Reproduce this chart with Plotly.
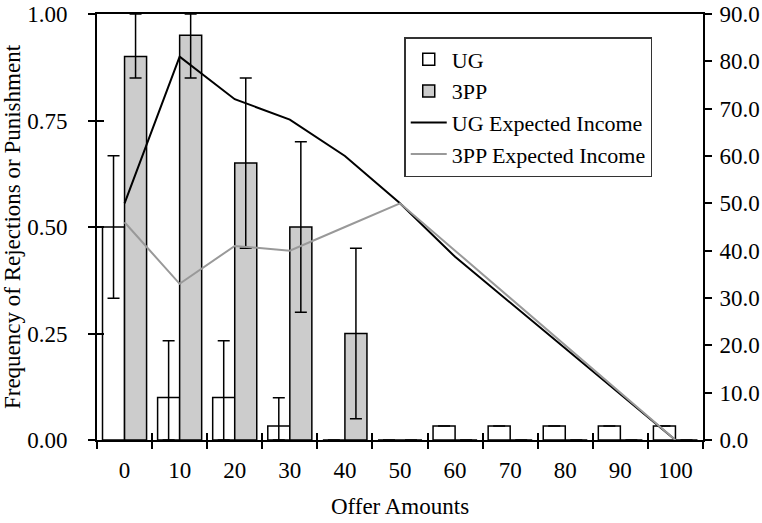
import plotly.graph_objects as go

# Offer amounts (categories)
offers = ["0", "10", "20", "30", "40", "50", "60", "70", "80", "90", "100"]

# Frequency of rejections (UG) and punishment (3PP)
ug_freq = [0.50, 0.10, 0.10, 0.033, 0.0, 0.0, 0.033, 0.033, 0.033, 0.033, 0.033]
ug_err_plus = [0.167, 0.133, 0.133, 0.066, 0, 0, 0, 0, 0, 0, 0]
ug_err_minus = [0.167, 0.10, 0.10, 0.033, 0, 0, 0, 0, 0, 0, 0]

pp_freq = [0.90, 0.95, 0.65, 0.50, 0.25, 0.0, 0.0, 0.0, 0.0, 0.0, 0.0]
pp_err_plus = [0.10, 0.05, 0.20, 0.20, 0.20, 0, 0, 0, 0, 0, 0]
pp_err_minus = [0.05, 0.10, 0.20, 0.20, 0.20, 0, 0, 0, 0, 0, 0]

# Expected income (right axis)
ug_income = [50.0, 81.0, 72.0, 67.7, 60.0, 50.0, 38.7, 29.0, 19.3, 9.7, 0.0]
pp_income = [46.0, 33.0, 41.0, 40.0, 45.0, 50.0, 40.0, 30.0, 20.0, 10.0, 0.0]

left_ticks = [0, 0.25, 0.5, 0.75, 1.0]
right_ticks = [0, 10, 20, 30, 40, 50, 60, 70, 80, 90]

FONT = "'Liberation Serif', 'DejaVu Serif', serif"
FS = 23

err_style = dict(type="data", symmetric=False, color="black", thickness=1.5, width=6)

fig = go.Figure()

fig.add_trace(go.Bar(
    x=offers, y=ug_freq, name="UG",
    marker=dict(color="white", line=dict(color="black", width=1.5)),
    error_y=dict(array=ug_err_plus, arrayminus=ug_err_minus, **err_style),
))
fig.add_trace(go.Bar(
    x=offers, y=pp_freq, name="3PP",
    marker=dict(color="#cccccc", line=dict(color="black", width=1.5)),
    error_y=dict(array=pp_err_plus, arrayminus=pp_err_minus, **err_style),
))
fig.add_trace(go.Scatter(
    x=offers, y=ug_income, name="UG Expected Income", yaxis="y2",
    mode="lines", line=dict(color="black", width=2),
))
fig.add_trace(go.Scatter(
    x=offers, y=pp_income, name="3PP Expected Income", yaxis="y2",
    mode="lines", line=dict(color="#999999", width=2),
))
# carrier for the inward tick marks on the bottom and left axes
fig.add_trace(go.Scatter(
    x=offers, y=[None] * len(offers), xaxis="x2", yaxis="y3",
    mode="lines", showlegend=False, hoverinfo="skip",
))

fig.update_layout(
    template="none",
    width=762, height=523,
    margin=dict(l=97, r=59, t=14, b=83, autoexpand=False),
    paper_bgcolor="white", plot_bgcolor="white",
    font=dict(family=FONT, size=FS, color="black"),
    barmode="group", bargap=0.2, bargroupgap=0,
    hovermode=False,
    showlegend=True,
    legend=dict(
        x=0.507, y=0.946, xanchor="left", yanchor="top",
        bgcolor="white", bordercolor="#333333", borderwidth=1.5,
        font=dict(family=FONT, size=22),
        tracegroupgap=0, itemwidth=36,
    ),
    xaxis=dict(
        type="category", categoryorder="array", categoryarray=offers,
        range=[-0.5, 10.5], tickson="boundaries", automargin=False,
        ticks="outside", ticklen=7, tickwidth=1.5, tickcolor="black",
        showline=True, linecolor="black", linewidth=2, mirror=True,
        showgrid=False, zeroline=False, ticklabelstandoff=8,
        title=dict(text="Offer Amounts", font=dict(size=FS), standoff=16),
    ),
    xaxis2=dict(
        type="category", categoryorder="array", categoryarray=offers,
        range=[-0.5, 10.5], tickson="boundaries", overlaying="x", automargin=False,
        ticks="inside", ticklen=7, tickwidth=1.5, tickcolor="black",
        showticklabels=False, showline=False, showgrid=False, zeroline=False,
    ),
    yaxis=dict(
        range=[0, 1], tickvals=left_ticks, tickformat=".2f", automargin=False,
        ticks="outside", ticklen=7, tickwidth=1.5, tickcolor="black",
        showline=True, linecolor="black", linewidth=2,
        showgrid=False, zeroline=False, ticklabelstandoff=16,
        title=dict(text="Frequency of Rejections or Punishment", font=dict(size=FS), standoff=1),
    ),
    yaxis3=dict(
        range=[0, 1], tickvals=left_ticks, overlaying="y", side="left", automargin=False,
        ticks="inside", ticklen=7, tickwidth=1.5, tickcolor="black",
        showticklabels=False, showline=False, showgrid=False, zeroline=False,
    ),
    yaxis2=dict(
        range=[0, 90], tickvals=right_ticks, tickformat=".1f", automargin=False,
        overlaying="y", side="right",
        ticks="outside", ticklen=7, tickwidth=1.5, tickcolor="black",
        showline=True, linecolor="black", linewidth=2,
        showgrid=False, zeroline=False, ticklabelstandoff=3,
    ),
)

fig.write_html("out.html")
